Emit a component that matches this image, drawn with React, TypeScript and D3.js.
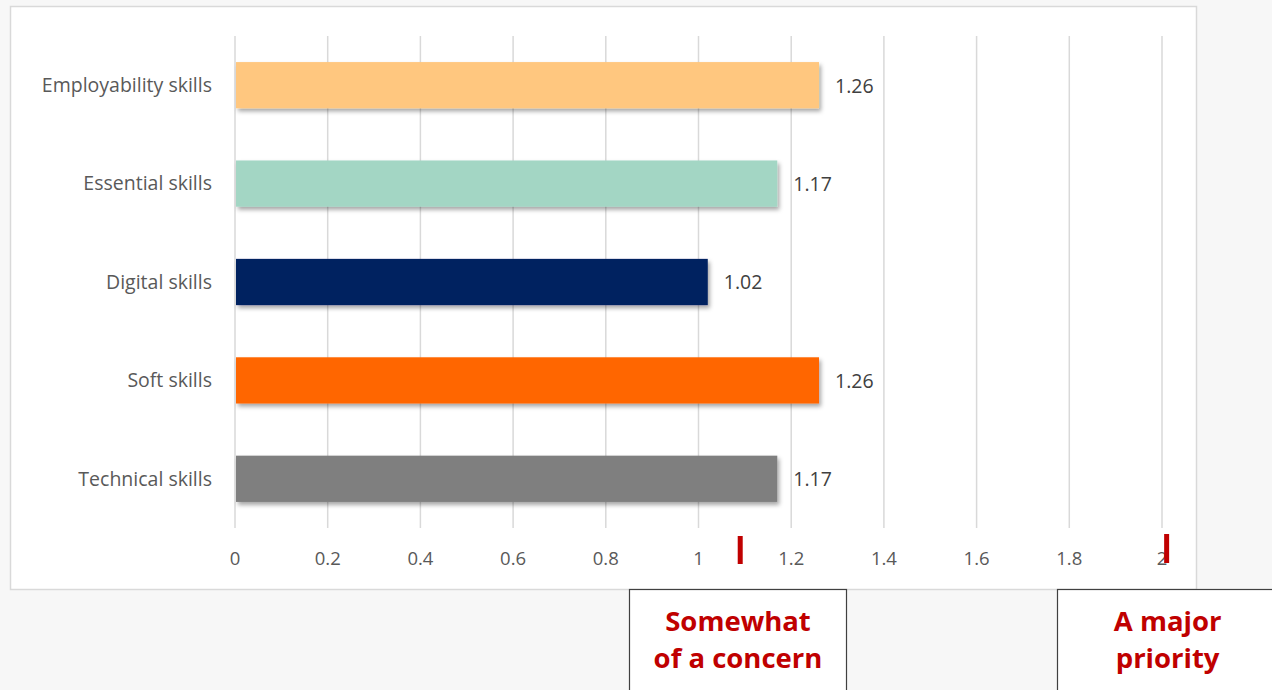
import React from 'react';
import * as d3 from 'd3';

const categories = ['Employability skills', 'Essential skills', 'Digital skills', 'Soft skills', 'Technical skills'];
const values = [1.26, 1.17, 1.02, 1.26, 1.17];
const barColors = ['#FFC77F', '#A3D6C4', '#002060', '#FF6600', '#7F7F7F'];
const tickValues = [0, 0.2, 0.4, 0.6, 0.8, 1, 1.2, 1.4, 1.6, 1.8, 2];
// red markers on the axis and the callouts under them
const markers = [1.09, 2.01];
const callouts = [
  ['Somewhat', 'of a concern'],
  ['A major', 'priority'],
];

const W = 1272;
const H = 690;

function App() {
  const x = d3.scaleLinear().domain([0, 2]).range([235, 1162]);
  const y = d3.scaleBand().domain(categories).range([36, 528]).paddingInner(0.53).paddingOuter(0.265);

  const font = "'Open Sans', 'Liberation Sans', sans-serif";

  return (
    <svg width={W} height={H} style={{ position: 'absolute', left: 0, top: 0 }} fontFamily={font}>
      <defs>
        <filter id="shadow" x="-5%" y="-30%" width="115%" height="180%">
          <feDropShadow dx="2" dy="3" stdDeviation="2" floodColor="#000" floodOpacity="0.35" />
        </filter>
      </defs>
      <rect x={0} y={0} width={W} height={H} fill="#f7f7f7" />
      <rect x={10.5} y={6.5} width={1186} height={583} fill="#fff" stroke="#d9d9d9" strokeWidth={1.5} />

      {/* gridlines */}
      {tickValues.map((t) => (
        <line key={t} x1={x(t)} x2={x(t)} y1={36} y2={528} stroke="#d9d9d9" strokeWidth={1.5} />
      ))}

      {/* tick labels */}
      {tickValues.map((t) => (
        <text key={'l' + t} x={x(t)} y={565} textAnchor="middle" fontSize={18.5} fill="#595959">
          {d3.format('~g')(t)}
        </text>
      ))}

      {/* bars */}
      {categories.map((c, i) => (
        <g key={c}>
          <rect
            x={x(0) + 1}
            y={y(c)}
            width={x(values[i]) - x(0) - 1}
            height={y.bandwidth()}
            fill={barColors[i]}
            filter="url(#shadow)"
          />
          <text
            x={212}
            y={(y(c) as number) + y.bandwidth() / 2}
            dy="0.35em"
            textAnchor="end"
            fontSize={19.5}
            fill="#595959"
          >
            {c}
          </text>
          <text
            x={x(values[i]) + 16}
            y={(y(c) as number) + y.bandwidth() / 2}
            dy="0.38em"
            fontSize={19.5}
            fill="#404040"
          >
            {values[i].toFixed(2)}
          </text>
        </g>
      ))}

      {/* red markers */}
      {markers.map((m, i) => (
        <rect key={'m' + i} x={x(m) - 2.5} y={i === 0 ? 536 : 534} width={5} height={i === 0 ? 28 : 29} fill="#C00000" />
      ))}

      {/* callout boxes */}
      {callouts.map((lines, i) => {
        const cx = x(markers[i]);
        const bx = i === 0 ? 629.5 : 1057.5;
        const bw = i === 0 ? 217 : 230;
        return (
          <g key={'c' + i}>
            <rect x={bx} y={589.5} width={bw} height={110} fill="#fff" stroke="#404040" strokeWidth={1.2} />
            {lines.map((l, j) => (
              <text
                key={l}
                x={i === 0 ? bx + bw / 2 : cx + 1}
                y={631 + j * 37}
                textAnchor="middle"
                fontSize={27.5}
                fontWeight="bold"
                fill="#C00000"
              >
                {l}
              </text>
            ))}
          </g>
        );
      })}
    </svg>
  );
}

export default App;
